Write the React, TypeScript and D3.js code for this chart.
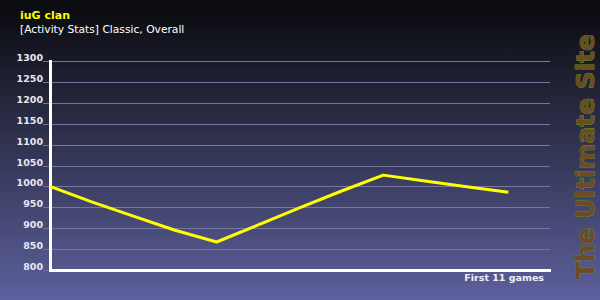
import React from "react";
import * as d3 from "d3";

const title = "iuG clan";
const subtitle = "[Activity Stats] Classic, Overall";
const xLabel = "First 11 games";
const watermark = "The Ultimate Site";
const games = [0, 1, 2, 3, 4, 5, 6, 7, 8, 9, 10, 11];
const values = [1000, 963, 929, 895, 867, 908, 949, 989, 1027, 1013, 999, 986];
const yTicks = [800, 850, 900, 950, 1000, 1050, 1100, 1150, 1200, 1250, 1300];

export default function App() {
  const W = 600, H = 300;
  const x = d3.scaleLinear().domain([0, 12]).range([50, 550]);
  const y = d3.scaleLinear().domain([800, 1300]).range([270, 61]);
  const line = d3
    .line<number>()
    .x((_, i) => x(games[i]))
    .y((d) => y(d));
  const font = "'DejaVu Sans', Verdana, sans-serif";
  return (
    <div style={{ position: "absolute", left: 0, top: 0 }}>
      <svg width={W} height={H} style={{ display: "block" }}>
        <defs>
          <linearGradient id="bg" x1="0" y1="0" x2="0" y2="1">
            <stop offset="0" stopColor="#0b0c0f" />
            <stop offset="0.07" stopColor="#0e0f15" />
            <stop offset="1" stopColor="#5d609c" />
          </linearGradient>
        </defs>
        <rect x={0} y={0} width={W} height={H} fill="url(#bg)" />
        <text x={20} y={19} fill="#ffff00" fontFamily={font} fontWeight="bold" fontSize={11}>
          {title}
        </text>
        <text x={20} y={33} fill="#ffffff" fontFamily={font} fontSize={10.7}>
          {subtitle}
        </text>
        {yTicks.map((t) => (
          <g key={t}>
            <line x1={43} x2={550} y1={Math.round(y(t)) + 0.5} y2={Math.round(y(t)) + 0.5} stroke="#75769f" strokeWidth={1} />
            <text
              x={43}
              y={Math.round(y(t)) - 0.5}
              textAnchor="end"
              fill="#e8e8f0"
              fontFamily={font}
              fontWeight="bold"
              fontSize={9.5}
            >
              {t}
            </text>
          </g>
        ))}
        <line x1={50.5} x2={50.5} y1={y(1300) - 1} y2={y(800) + 1.5} stroke="#ffffff" strokeWidth={3} />
        <line x1={49} x2={551} y1={y(800) + 0.5} y2={y(800) + 0.5} stroke="#ffffff" strokeWidth={3} />
        <path d={line(values) || ""} fill="none" stroke="#ffff00" strokeWidth={3} strokeLinejoin="round" />
        <text x={544} y={281} textAnchor="end" fill="#f0f0f8" fontFamily={font} fontWeight="bold" fontSize={9.5}>
          {xLabel}
        </text>
        <text
          transform={`translate(594,279) rotate(-90)`}
          fill="#6e4a26"
          stroke="#5c9e12"
          strokeWidth={0.8}
          paintOrder="stroke"
          fontFamily={font}
          fontWeight="bold"
          fontSize={25}
          textLength={245}
          lengthAdjust="spacingAndGlyphs"
        >
          {watermark}
        </text>
      </svg>
    </div>
  );
}
